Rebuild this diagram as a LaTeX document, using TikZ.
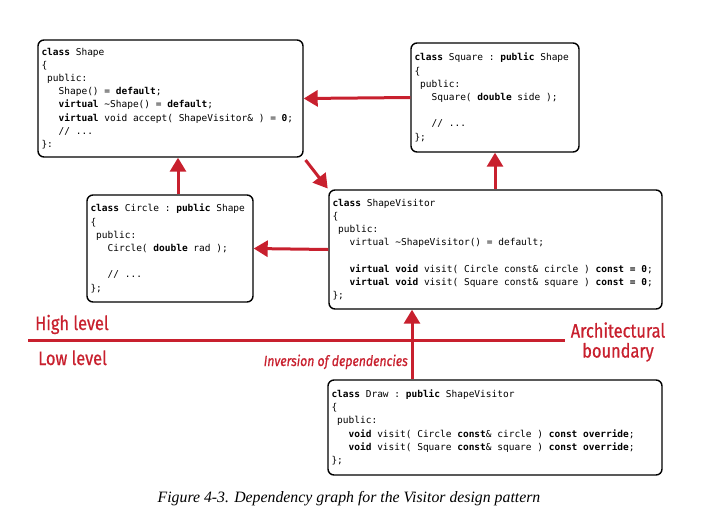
\documentclass[tikz,border=0pt]{standalone}
\usepackage{fontspec}
\usetikzlibrary{arrows.meta}
\newfontfamily\codefont{DejaVu Sans Mono}
\newfontfamily\labelfont[FakeStretch=0.84,FakeBold=0.7]{Fira Sans}
\newfontfamily\capfont{Liberation Serif}
\definecolor{oreilly}{RGB}{200,32,46}
\newcommand{\ind}[1]{\hspace*{#1\fontcharwd\font`M}}
\newcommand{\fixsp}{\spaceskip=\fontcharwd\font`M\relax\xspaceskip=\spaceskip}
\begin{document}
\begin{tikzpicture}[x=1pt,y=-1pt,
  code/.style={draw, rounded corners=6pt, line width=1.4pt, align=left, inner xsep=3.5pt, inner ysep=0pt,
    font=\codefont\fontsize{9.5}{13.2}\selectfont},
  dep/.style={draw=oreilly, line width=3pt, -{Triangle[length=14pt,width=16pt]}},
  lbl/.style={text=oreilly, inner sep=0pt, font=\labelfont\fontsize{19.5}{20}\selectfont}]
\useasboundingbox (0,0) rectangle (709,523);
\node[code, text width=258pt, minimum height=117pt] (shapebox) at (170.5,98.5) {\fixsp\textbf{class} Shape\\
\{\\
\ind{1}public:\\
\ind{3}Shape() = \textbf{default};\\
\ind{3}\textbf{virtual} \textasciitilde Shape() = \textbf{default};\\
\ind{3}\textbf{virtual} void accept( ShapeVisitor\& ) = \textbf{0};\\
\ind{3}// ...\\
\}:};
\node[code, text width=161pt, minimum height=109pt] (squarebox) at (495,97.5) {\fixsp\textbf{class} Square : \textbf{public} Shape\\
\{\\
\ind{1}public:\\
\ind{3}Square( \textbf{double} side );\\
\mbox{}\\
\ind{3}// ...\\
\};};
\node[code, text width=159pt, minimum height=107pt] (circlebox) at (170,248.5) {\fixsp\textbf{class} Circle : \textbf{public} Shape\\
\{\\
\ind{1}public:\\
\ind{3}Circle( \textbf{double} rad );\\
\mbox{}\\
\ind{3}// ...\\
\};};
\node[code, text width=326pt, minimum height=119pt] (visitorbox) at (495.5,249.5) {\fixsp\textbf{class} ShapeVisitor\\
\{\\
\ind{1}public:\\
\ind{3}virtual \textasciitilde ShapeVisitor() = default;\\
\mbox{}\\
\ind{3}\textbf{virtual void} visit( Circle const\& circle ) \textbf{const = 0};\\
\ind{3}\textbf{virtual void} visit( Square const\& square ) \textbf{const = 0};\\
\};};
\node[code, text width=327pt, minimum height=95pt] (drawbox) at (495,427.5) {\fixsp\textbf{class} Draw : \textbf{public} ShapeVisitor\\
\{\\
\ind{1}public:\\
\ind{3}\textbf{void} visit( Circle \textbf{const}\& circle ) \textbf{const override};\\
\ind{3}\textbf{void} visit( Square \textbf{const}\& square ) \textbf{const override};\\
\};};
\draw[dep] (squarebox.west) -- (shapebox.east);
\draw[dep] ([xshift=8pt]circlebox.north) -- ([xshift=8pt]circlebox.north |- shapebox.south);
\draw[dep, shorten <=3pt, shorten >=1pt] (shapebox.south east) -- (visitorbox.north west);
\draw[dep] (squarebox.south |- visitorbox.north) -- (squarebox.south);
\draw[dep] (visitorbox.west) -- (circlebox.east);
\draw[dep] ([xshift=-83pt]drawbox.north) -- ([xshift=-83pt]drawbox.north |- visitorbox.south);
\coordinate (bleft) at (28,340);
\coordinate (bright) at (565,340);
\draw[oreilly, line width=3pt] (bleft) -- (bright);
\node[lbl, anchor=base west] (high) at (35,330) {High level};
\node[lbl, anchor=base west] (low) at (38,365) {Low level};
\node[lbl, align=center, anchor=center] (arch) at (618,342) {Architectural\\boundary};
\node[lbl, anchor=base east, font=\labelfont\itshape\fontsize{14.6}{16}\selectfont] (inv) at (408,366) {Inversion of dependencies};
\node[anchor=base, inner sep=0pt, font=\capfont\itshape\fontsize{15.8}{18}\selectfont] (caption) at (349,502) {Figure 4-3. Dependency graph for the Visitor design pattern};
\end{tikzpicture}
\end{document}
